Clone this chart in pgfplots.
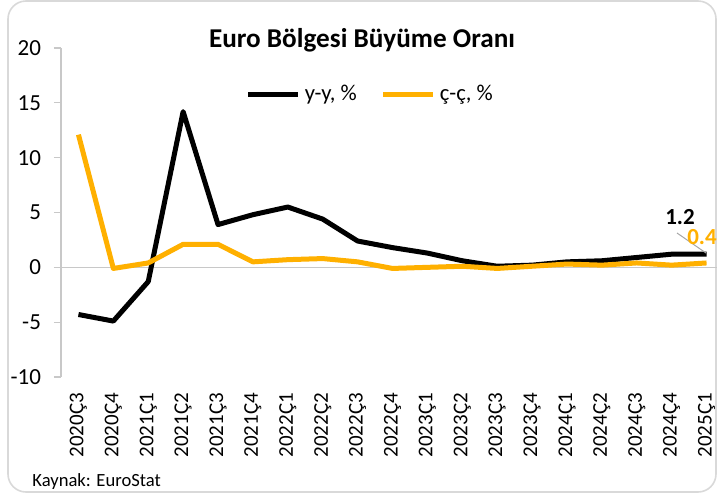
\documentclass[border=0pt]{standalone}
\usepackage{fontspec}
\setmainfont{Carlito}
\usepackage{pgfplots}
\pgfplotsset{compat=1.18}
\definecolor{cqq}{RGB}{255,176,0}
\definecolor{axgray}{RGB}{200,200,200}

\begin{document}
\begin{tikzpicture}[x=0.5pt,y=0.5pt]
  % picture area in px of the reference (717x495), origin bottom left
  \path[use as bounding box] (0,0) rectangle (717,495);
  \draw[gray!30, line width=0.8pt, rounded corners=9pt] (8,3) rectangle (716,494);

  \begin{axis}[
      at={(30.5pt,59pt)}, anchor=south west,
      scale only axis, width=331.5pt, height=164.5pt,
      xmin=-0.5, xmax=18.5, ymin=-10, ymax=20,
      ytick={-10,-5,0,5,10,15,20},
      xtick={0,...,18},
      xticklabels={2020Ç3,2020Ç4,2021Ç1,2021Ç2,2021Ç3,2021Ç4,2022Ç1,2022Ç2,2022Ç3,2022Ç4,2023Ç1,2023Ç2,2023Ç3,2023Ç4,2024Ç1,2024Ç2,2024Ç3,2024Ç4,2025Ç1},
      axis y line*=left, axis x line*=bottom,
      x axis line style={draw=none},
      y axis line style={draw=axgray, line width=0.6pt},
      xtick style={draw=none},
      ytick style={draw=axgray, line width=0.6pt},
      tick align=outside, major tick length=3.5pt,
      extra y ticks={0}, extra y tick labels={},
      extra y tick style={grid=major, major grid style={draw=axgray, line width=0.8pt}},
      yticklabel style={font=\fontsize{11.5}{13}\selectfont, xshift=-3pt, /pgf/number format/assume math mode=true},
      xticklabel style={font=\fontsize{10.5}{12}\selectfont, rotate=90, anchor=east, xshift=-1pt},
      legend style={at={(0.468,0.86)}, anchor=center, draw=none, fill=none,
                    font=\fontsize{11.3}{13}\selectfont, legend columns=2,
                    /tikz/every even column/.append style={column sep=10pt}},
      legend image code/.code={\draw[#1] (0pt,0pt) -- (25pt,0pt);},
      clip=false,
    ]
    \addplot[black, line width=2.5pt, line join=round] coordinates {
      (0,-4.3) (1,-4.9) (2,-1.3) (3,14.2) (4,3.9) (5,4.8) (6,5.5) (7,4.4)
      (8,2.4) (9,1.8) (10,1.3) (11,0.6) (12,0.1) (13,0.2) (14,0.5) (15,0.6)
      (16,0.9) (17,1.2) (18,1.2)
    };
    \addlegendentry{y-y, \%}
    \addplot[cqq, line width=2.5pt, line join=round] coordinates {
      (0,12.1) (1,-0.1) (2,0.4) (3,2.1) (4,2.1) (5,0.5) (6,0.7) (7,0.8)
      (8,0.5) (9,-0.1) (10,0.0) (11,0.1) (12,-0.1) (13,0.1) (14,0.3) (15,0.2)
      (16,0.4) (17,0.2) (18,0.4)
    };
    \addlegendentry{ç-ç, \%}
  \end{axis}

  \node[font=\bfseries\fontsize{13.6}{16}\selectfont] at (362,455) {Euro Bölgesi Büyüme Oranı};
  \draw[gray!70, line width=0.5pt] (677,262) -- (706,242);
  \node[font=\bfseries\fontsize{11.5}{13}\selectfont] at (680,278) {1.2};
  \node[font=\bfseries\fontsize{11.5}{13}\selectfont, text=cqq] at (702,258) {0.4};
  \node[anchor=west, font=\fontsize{9.3}{11}\selectfont, inner sep=0pt] at (32,13) {Kaynak: EuroStat};
\end{tikzpicture}
\end{document}
